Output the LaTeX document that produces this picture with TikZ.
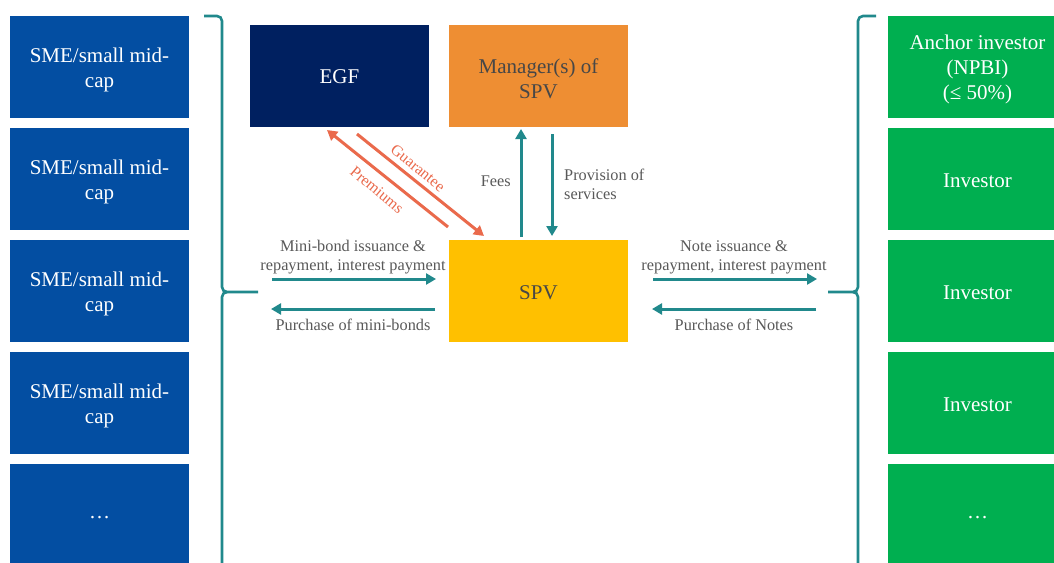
\documentclass[tikz,border=0pt]{standalone}
\usepackage{fontspec}
\setmainfont{Liberation Serif}
\usetikzlibrary{arrows.meta}
\definecolor{smeblue}{HTML}{034EA2}
\definecolor{invgreen}{HTML}{00AF50}
\definecolor{egfnavy}{HTML}{002060}
\definecolor{mgrorange}{HTML}{EE8E33}
\definecolor{spvyellow}{HTML}{FFC000}
\definecolor{teal}{HTML}{21898C}
\definecolor{coral}{HTML}{EA6A4C}
\definecolor{darktext}{HTML}{474747}
\definecolor{labeltext}{HTML}{595959}
\tikzset{
  box/.style={rectangle, inner sep=0pt, outer sep=0pt, minimum width=179pt, minimum height=102pt},
  btext/.style={inner sep=0pt, align=center, font=\fontsize{21}{25}\selectfont},
  sme/.style={box, fill=smeblue},
  inv/.style={box, fill=invgreen},
  flow/.style={draw=teal, line width=3pt, -{Triangle[length=10pt,width=11pt]}},
  gflow/.style={draw=coral, line width=3pt, -{Triangle[length=10pt,width=11pt]}},
  lbl/.style={text=labeltext, font=\fontsize{16.3}{19}\selectfont, align=center, inner sep=0pt},
  clbl/.style={text=coral, font=\fontsize{15.8}{18}\selectfont, inner sep=1pt},
  brace/.style={draw=teal, line width=2.6pt}
}
\begin{document}
\begin{tikzpicture}[x=1pt,y=-1pt]
\clip (0,0) rectangle (1054,562);
\fill[white] (0,0) rectangle (1054,562);
% left boxes
\node[sme] (l1) at (99.5,67) {};
\node[sme] (l2) at (99.5,179) {};
\node[sme] (l3) at (99.5,291) {};
\node[sme] (l4) at (99.5,403) {};
\node[sme] (l5) at (99.5,515) {};
\node[btext, text=white] (l1t) at ([yshift=-2.5pt]l1.center) {SME/small mid-\\cap};
\node[btext, text=white] (l2t) at ([yshift=-2.5pt]l2.center) {SME/small mid-\\cap};
\node[btext, text=white] (l3t) at ([yshift=-2.5pt]l3.center) {SME/small mid-\\cap};
\node[btext, text=white] (l4t) at ([yshift=-2.5pt]l4.center) {SME/small mid-\\cap};
\node[btext, text=white] (l5t) at ([yshift=-2.5pt]l5.center) {\dots};
% right boxes
\node[inv] (r1) at (977.5,67) {};
\node[inv] (r2) at (977.5,179) {};
\node[inv] (r3) at (977.5,291) {};
\node[inv] (r4) at (977.5,403) {};
\node[inv] (r5) at (977.5,515) {};
\node[btext, text=white] (r1t) at ([yshift=-2.5pt]r1.center) {Anchor investor\\(NPBI)\\(≤ 50\%)};
\node[btext, text=white] (r2t) at ([yshift=-2pt]r2.center) {Investor};
\node[btext, text=white] (r3t) at ([yshift=-2pt]r3.center) {Investor};
\node[btext, text=white] (r4t) at ([yshift=-2pt]r4.center) {Investor};
\node[btext, text=white] (r5t) at ([yshift=-2.5pt]r5.center) {\dots};
% center boxes
\node[box, fill=egfnavy] (egf) at (339.5,76) {};
\node[box, fill=mgrorange] (mgr) at (538.5,76) {};
\node[box, fill=spvyellow] (spv) at (538.5,291) {};
\node[btext, text=white] (egft) at ([yshift=-1pt]egf.center) {EGF};
\node[btext, text=darktext] (mgrt) at ([yshift=-2.5pt]mgr.center) {Manager(s) of\\SPV};
\node[btext, text=darktext] (spvt) at ([yshift=-1.5pt]spv.center) {SPV};
% braces
\draw[brace] (204,16) -- (217,16) to[out=0,in=90] (222,21) -- (222,287) to[out=-90,in=180] (227,292) -- (258,292);
\draw[brace] (222,565) -- (222,297) to[out=90,in=180] (227,292);
\draw[brace] (876,16) -- (863,16) to[out=180,in=90] (858,21) -- (858,287) to[out=-90,in=0] (853,292) -- (828,292);
\draw[brace] (858,565) -- (858,297) to[out=90,in=0] (853,292);
% coordinates
\coordinate (a1s) at (272,279); \coordinate (a1e) at (436,279);
\coordinate (a2s) at (435,309); \coordinate (a2e) at (271,309);
\coordinate (b1s) at (653,279); \coordinate (b1e) at (817,279);
\coordinate (b2s) at (816,309); \coordinate (b2e) at (652,309);
\coordinate (fs) at (521,237); \coordinate (fe) at (521,129);
\coordinate (ps) at (552,134); \coordinate (pe) at (552,236);
\coordinate (prs) at (448,227); \coordinate (pre) at (327,130);
\coordinate (gs) at (357,134); \coordinate (ge) at (484,236);
% arrows
\draw[flow] (a1s) -- (a1e);
\draw[flow] (a2s) -- (a2e);
\draw[flow] (b1s) -- (b1e);
\draw[flow] (b2s) -- (b2e);
\draw[flow] (fs) -- (fe);
\draw[flow] (ps) -- (pe);
\draw[gflow] (prs) -- (pre);
\draw[gflow] (gs) -- (ge);
% labels
\node[lbl] (t1) at (353,257) {Mini-bond issuance \&\\repayment, interest payment};
\node[lbl] (t2) at (353,324.5) {Purchase of mini-bonds};
\node[lbl] (t3) at (734,257) {Note issuance \&\\repayment, interest payment};
\node[lbl] (t4) at (734,324.5) {Purchase of Notes};
\node[lbl, anchor=east] (t5) at (511,181.5) {Fees};
\node[lbl, anchor=west, align=left] (t6) at (564,184) {Provision of\\services};
\node[clbl, rotate=-39.5] (t7) at (418,168) {Guarantee};
\node[clbl, rotate=-40] (t8) at (377,190) {Premiums};
\end{tikzpicture}
\end{document}
